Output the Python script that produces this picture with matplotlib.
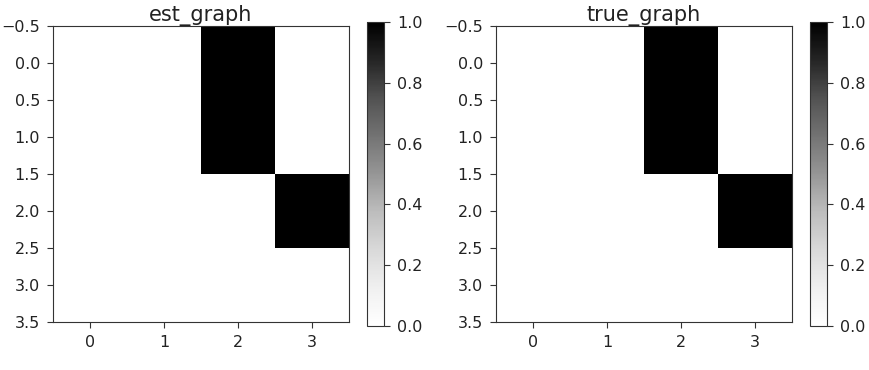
import numpy as np
import matplotlib
matplotlib.use("Agg")
import matplotlib.pyplot as plt

titles = ["est_graph", "true_graph"]
est_graph = [[0, 0, 1, 0],
             [0, 0, 1, 0],
             [0, 0, 0, 1],
             [0, 0, 0, 0]]
true_graph = [[0, 0, 1, 0],
              [0, 0, 1, 0],
              [0, 0, 0, 1],
              [0, 0, 0, 0]]
matrices = [est_graph, true_graph]
x_ticks = [0, 1, 2, 3]
y_ticks = [-0.5, 0.0, 0.5, 1.0, 1.5, 2.0, 2.5, 3.0, 3.5]
cbar_ticks = [0.0, 0.2, 0.4, 0.6, 0.8, 1.0]

plt.rcParams.update({
    "xtick.labelsize": 11.5,
    "ytick.labelsize": 11.5,
    "xtick.major.size": 4.3,
    "ytick.major.size": 4.3,
    "xtick.major.pad": 5,
    "ytick.major.pad": 5,
    "axes.edgecolor": "#333333",
    "xtick.color": "#333333",
    "ytick.color": "#333333",
    "xtick.labelcolor": "#222222",
    "ytick.labelcolor": "#222222",
})

W, H = 870, 370
fig = plt.figure(figsize=(W / 100, H / 100), dpi=100)

def px_axes(x0, y0, x1, y1):
    return fig.add_axes([x0 / W, 1 - y1 / H, (x1 - x0) / W, (y1 - y0) / H])

layout = [((53, 26, 349, 322), (367, 22, 384, 326)),
          ((496, 26, 792, 322), (810, 22, 827, 326))]

for (abox, cbox), title, mat in zip(layout, titles, matrices):
    ax = px_axes(*abox)
    im = ax.imshow(np.array(mat), cmap="Greys", vmin=0, vmax=1, aspect="auto")
    ax.set_title(title, fontsize=15, pad=3, color="#222222")
    ax.set_xticks(x_ticks)
    ax.set_yticks(y_ticks)
    ax.set_xlim(-0.5, 3.5)
    ax.set_ylim(3.5, -0.5)
    cax = px_axes(*cbox)
    cb = fig.colorbar(im, cax=cax, ticks=cbar_ticks)
    cb.outline.set_edgecolor("#333333")

fig.savefig("out.png", dpi=100)
